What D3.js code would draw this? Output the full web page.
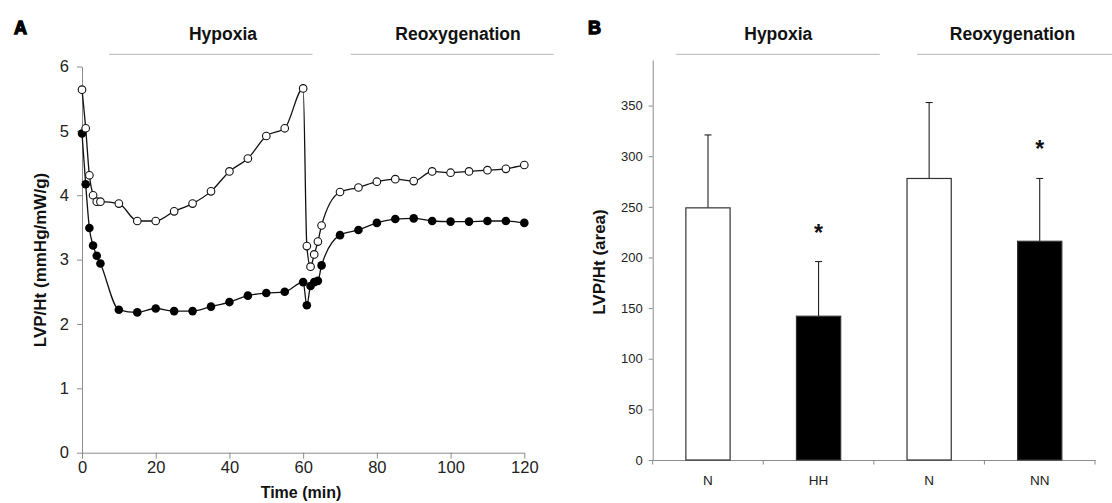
<!DOCTYPE html>
<html>
<head>
<meta charset="utf-8">
<title>LVP/Ht hypoxia and reoxygenation</title>
<script src="https://d3js.org/d3.v7.min.js"></script>
<style>
  body { margin:0; background:#fff; }
  svg { display:block; font-family:"Liberation Sans", Arial, sans-serif; }
  .axis path, .axis line { stroke:#8c8c8c; }
  .axis text { fill:#222; }
</style>
</head>
<body>
<svg id="chart" width="1112" height="503"></svg>
<script>
// ---- panel A data : time course (min) ----
const times = [0,1,2,3,4,5,10,15,20,25,30,35,40,45,50,55,60,61,62,63,64,65,70,75,80,85,90,95,100,105,110,115,120];
const openValues = [5.64,5.04,4.31,4.00,3.90,3.90,3.87,3.60,3.60,3.75,3.87,4.06,4.37,4.57,4.92,5.04,5.66,
                    3.21,2.89,3.08,3.28,3.53,4.05,4.12,4.21,4.25,4.22,4.37,4.35,4.37,4.39,4.41,4.47];
const filledValues = [4.96,4.17,3.49,3.22,3.06,2.94,2.22,2.18,2.24,2.20,2.20,2.27,2.34,2.44,2.48,2.50,2.65,
                      2.29,2.59,2.65,2.67,2.91,3.38,3.46,3.57,3.63,3.64,3.60,3.59,3.59,3.60,3.60,3.57];
const xTicksA = [0,20,40,60,80,100,120];
const yTicksA = [0,1,2,3,4,5,6];

// ---- panel B data : bar chart ----
const barLabels = ["N","HH","N","NN"];
const barGroups = ["normoxic","treated","normoxic","treated"];
const barValues = [249,142,278,216];
const barErrors = [72,54,75,62];
const barSignificant = [false,true,false,true];
const yTicksB = [0,50,100,150,200,250,300,350];

const phases = ["Hypoxia","Reoxygenation"];

const svg = d3.select('#chart');

// ================= PANEL A =================
const xA = d3.scaleLinear().domain([0,120]).range([82,524.3]);
const yA = d3.scaleLinear().domain([0,6]).range([452.7,66.5]);

const gA = svg.append('g');

gA.append('g').attr('class','axis')
  .attr('transform','translate(82,0)')
  .call(d3.axisLeft(yA).tickValues(yTicksA).tickFormat(d3.format('d')).tickSize(5).tickSizeOuter(0).tickPadding(8))
  .call(g => g.selectAll('text').style('font-size','16.5px'));

gA.append('g').attr('class','axis')
  .attr('transform','translate(0,452.7)')
  .call(d3.axisBottom(xA).tickValues(xTicksA).tickSize(6).tickSizeOuter(0).tickPadding(3))
  .call(g => g.selectAll('text').style('font-size','16.5px'));

const lineA = (vals) => d3.line()
  .x((d,i) => xA(times[i]))
  .y(d => yA(d))
  .curve(d3.curveMonotoneX)(vals);

gA.append('path').attr('d', lineA(filledValues))
  .attr('fill','none').attr('stroke','#111').attr('stroke-width',1.3);
gA.append('path').attr('d', lineA(openValues))
  .attr('fill','none').attr('stroke','#111').attr('stroke-width',1.3);

gA.append('g').selectAll('circle')
  .data(filledValues).enter().append('circle')
  .attr('cx',(d,i) => xA(times[i]))
  .attr('cy',d => yA(d))
  .attr('r',4.3)
  .attr('fill','#000');

gA.append('g').selectAll('circle')
  .data(openValues).enter().append('circle')
  .attr('cx',(d,i) => xA(times[i]))
  .attr('cy',d => yA(d))
  .attr('r',3.8)
  .attr('fill','#fff').attr('stroke','#111').attr('stroke-width',1.1);

gA.append('text').text('LVP/Ht (mmHg/mW/g)')
  .attr('transform','translate(46,260) rotate(-90)')
  .attr('text-anchor','middle')
  .style('font-size','17px').style('font-weight','bold').attr('fill','#111');

gA.append('text').text('Time (min)')
  .attr('x',301).attr('y',498)
  .attr('text-anchor','middle')
  .style('font-size','16px').style('font-weight','bold').attr('fill','#111');

// ================= PANEL B =================
const xB = d3.scaleBand().domain(d3.range(barLabels.length)).range([652.7,1095]).paddingInner(0).paddingOuter(0);
const yB = d3.scaleLinear().domain([0,395]).range([460,60]);
const fillB = d3.scaleOrdinal().domain(["normoxic","treated"]).range(["#fff","#000"]);
const barW = xB.bandwidth()*0.4;

const gB = svg.append('g');

gB.append('g').attr('class','axis')
  .attr('transform','translate(652.7,0)')
  .call(d3.axisLeft(yB).tickValues(yTicksB).tickSize(4).tickSizeOuter(0).tickPadding(6))
  .call(g => g.selectAll('text').style('font-size','13px'));

gB.append('g').attr('class','axis')
  .attr('transform','translate(0,460)')
  .call(d3.axisBottom(xB).tickSize(0).tickSizeOuter(0).tickPadding(15).tickFormat(i => barLabels[i]))
  .call(g => g.selectAll('text').style('font-size','13.5px'));

// tick marks on the category boundaries
gB.append('g').selectAll('line')
  .data(d3.range(barLabels.length + 1)).enter().append('line')
  .attr('x1',i => xB.range()[0] + i*xB.step())
  .attr('x2',i => xB.range()[0] + i*xB.step())
  .attr('y1',460).attr('y2',464.5)
  .attr('stroke','#8c8c8c');

const cx = i => xB(i) + xB.bandwidth()/2;

// error bars (upper only)
gB.append('g').selectAll('line')
  .data(barValues).enter().append('line')
  .attr('x1',(d,i) => cx(i)).attr('x2',(d,i) => cx(i))
  .attr('y1',d => yB(d))
  .attr('y2',(d,i) => yB(d + barErrors[i]))
  .attr('stroke','#222').attr('stroke-width',1.1);
gB.append('g').selectAll('line')
  .data(barValues).enter().append('line')
  .attr('x1',(d,i) => cx(i) - 3.5).attr('x2',(d,i) => cx(i) + 3.5)
  .attr('y1',(d,i) => yB(d + barErrors[i]))
  .attr('y2',(d,i) => yB(d + barErrors[i]))
  .attr('stroke','#222').attr('stroke-width',1.1);

gB.append('g').selectAll('rect')
  .data(barValues).enter().append('rect')
  .attr('x',(d,i) => cx(i) - barW/2)
  .attr('y',d => yB(d))
  .attr('width',barW)
  .attr('height',d => yB(0) - yB(d))
  .attr('fill',(d,i) => fillB(barGroups[i]))
  .attr('stroke','#333').attr('stroke-width',1.2);

gB.append('g').selectAll('text')
  .data(barValues.map((d,i) => i).filter(i => barSignificant[i])).enter().append('text')
  .text('*')
  .attr('x',i => cx(i))
  .attr('y',i => yB(barValues[i] + barErrors[i]) - 21)
  .attr('text-anchor','middle')
  .style('font-size','23px').style('font-weight','bold').attr('fill','#111');

gB.append('text').text('LVP/Ht (area)')
  .attr('transform','translate(605,262) rotate(-90)')
  .attr('text-anchor','middle')
  .style('font-size','17px').style('font-weight','bold').attr('fill','#111');

// ================= headers =================
const headers = [
  {label:'A', x:14, phase:[223,458], lines:[[109,312.5],[350.7,553.6]]},
  {label:'B', x:588, phase:[778.3,1012.5], lines:[[676,879.7],[917,1112]]}
];
headers.forEach(h => {
  svg.append('text').text(h.label)
    .attr('x',h.x).attr('y',34)
    .style('font-size','18px').style('font-weight','bold')
    .attr('fill','#000').attr('stroke','#000').attr('stroke-width',1.3);
  phases.forEach((p,k) => {
    svg.append('text').text(p)
      .attr('x',h.phase[k]).attr('y',39.5)
      .attr('text-anchor','middle')
      .style('font-size','17.5px').style('font-weight','bold').attr('fill','#111');
    svg.append('line')
      .attr('x1',h.lines[k][0]).attr('x2',h.lines[k][1])
      .attr('y1',54.3).attr('y2',54.3)
      .attr('stroke','#c4c4c4').attr('stroke-width',1.3);
  });
});
</script>
</body>
</html>
